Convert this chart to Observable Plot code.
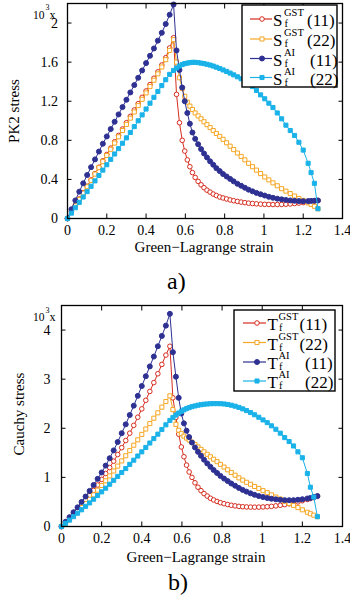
<!DOCTYPE html>
<html><head><meta charset="utf-8">
<script src="https://cdn.jsdelivr.net/npm/d3@7"></script>
<script src="https://cdn.jsdelivr.net/npm/@observablehq/plot@0.6"></script>
<style>
body{margin:0;background:#fff;}
#wrap{position:relative;width:350px;height:610px;overflow:hidden;font-family:"Liberation Serif","Times New Roman",serif;}
#wrap svg{position:absolute;left:0;}
</style></head><body><div id="wrap"></div>
<script>
// ---------- data ----------
const strain = [0,0.02,0.04,0.06,0.08,0.1,0.12,0.14,0.16,0.18,0.2,0.22,0.24,0.26,0.28,0.3,0.32,0.34,0.36,0.38,0.4,0.42,0.44,0.46,0.48,0.5,0.52,0.54,
  0.555,0.57,0.584,0.597,0.61,0.623,0.636,0.65,0.665,0.68,0.695,0.71,0.726,0.742,0.758,0.775,0.792,0.81,0.828,0.846,0.865,0.884,0.903,0.922,0.942,0.962,0.983,1.004,1.025,1.046,1.068,1.09,1.112,1.134,1.156,1.178,1.2,1.225,1.24,1.257,1.275];

// PK2 stress (x10^3)
const pk2_gst11 = [0,0.07,0.135,0.2,0.265,0.33,0.395,0.46,0.525,0.59,0.655,0.72,0.785,0.85,0.915,0.98,1.045,1.11,1.175,1.24,1.305,1.37,1.435,1.5,1.57,1.645,1.745,1.85,
  1.27,0.98,0.8,0.69,0.6,0.53,0.47,0.42,0.38,0.345,0.315,0.29,0.27,0.25,0.235,0.22,0.21,0.2,0.19,0.182,0.175,0.168,0.162,0.157,0.153,0.15,0.147,0.145,0.144,0.143,0.143,0.144,0.146,0.149,0.153,0.158,0.163,0.169,0.173,0.178,0.183];
const pk2_gst22 = [0,0.065,0.13,0.195,0.26,0.325,0.39,0.455,0.52,0.582,0.645,0.708,0.772,0.836,0.9,0.963,1.027,1.09,1.155,1.22,1.285,1.35,1.415,1.48,1.55,1.625,1.72,1.83,
  1.6,1.44,1.33,1.25,1.19,1.15,1.115,1.08,1.05,1.02,0.99,0.96,0.93,0.9,0.87,0.84,0.81,0.775,0.74,0.705,0.67,0.635,0.6,0.565,0.53,0.495,0.46,0.425,0.395,0.365,0.335,0.305,0.28,0.255,0.23,0.205,0.185,0.16,0.145,0.125,0.1];
const pk2_ai11 = [0,0.095,0.185,0.275,0.36,0.445,0.525,0.605,0.685,0.765,0.84,0.915,0.99,1.065,1.14,1.215,1.29,1.365,1.44,1.515,1.59,1.665,1.74,1.82,1.9,1.99,2.085,2.19,
  1.72,1.52,1.34,1.2,1.08,0.97,0.88,0.815,0.76,0.71,0.665,0.625,0.585,0.55,0.515,0.485,0.455,0.43,0.405,0.38,0.355,0.335,0.315,0.295,0.278,0.262,0.248,0.235,0.222,0.212,0.203,0.196,0.19,0.185,0.181,0.178,0.177,0.178,0.18,0.182,0.185];
const pk2_ai22 = [0,0.055,0.11,0.165,0.22,0.275,0.33,0.385,0.44,0.495,0.55,0.605,0.66,0.715,0.77,0.825,0.88,0.94,1.0,1.06,1.12,1.18,1.24,1.3,1.36,1.42,1.475,1.515,
  1.54,1.56,1.575,1.585,1.59,1.595,1.598,1.598,1.595,1.59,1.585,1.578,1.57,1.56,1.548,1.535,1.52,1.505,1.488,1.47,1.45,1.43,1.405,1.38,1.35,1.31,1.265,1.225,1.18,1.135,1.08,1.02,0.955,0.9,0.85,0.78,0.7,0.565,0.47,0.36,0.1];

// Cauchy stress (x10^3)
const cauchy_gst11 = [0,0.085,0.17,0.255,0.345,0.435,0.53,0.63,0.735,0.845,0.96,1.08,1.2,1.33,1.465,1.605,1.75,1.9,2.06,2.225,2.395,2.57,2.75,2.93,3.11,3.3,3.49,3.67,
  2.62,2.22,1.88,1.62,1.42,1.25,1.11,1.0,0.89,0.8,0.73,0.67,0.62,0.575,0.54,0.51,0.485,0.465,0.447,0.432,0.42,0.41,0.403,0.398,0.395,0.394,0.395,0.398,0.403,0.41,0.42,0.432,0.446,0.462,0.48,0.5,0.525,0.55,0.568,0.59,0.615];
const cauchy_gst22 = [0,0.075,0.15,0.225,0.305,0.385,0.47,0.555,0.645,0.74,0.835,0.93,1.03,1.13,1.23,1.335,1.44,1.545,1.655,1.765,1.875,1.985,2.095,2.205,2.315,2.43,2.545,2.66,
  2.38,2.08,1.96,1.89,1.84,1.8,1.76,1.715,1.67,1.62,1.57,1.52,1.47,1.42,1.37,1.32,1.265,1.21,1.155,1.1,1.045,0.99,0.945,0.9,0.86,0.815,0.775,0.73,0.69,0.645,0.6,0.56,0.515,0.47,0.43,0.385,0.34,0.29,0.26,0.23,0.2];
const cauchy_ai11 = [0,0.095,0.19,0.29,0.39,0.5,0.61,0.725,0.845,0.97,1.1,1.24,1.39,1.55,1.72,1.9,2.08,2.27,2.46,2.66,2.86,3.06,3.26,3.46,3.67,3.88,4.09,4.33,
  3.55,3.05,2.62,2.3,2.1,1.95,1.82,1.71,1.61,1.52,1.44,1.36,1.285,1.215,1.15,1.09,1.03,0.975,0.925,0.875,0.83,0.785,0.745,0.71,0.675,0.645,0.62,0.6,0.58,0.565,0.553,0.543,0.537,0.535,0.537,0.545,0.555,0.57,0.582,0.6,0.62];
const cauchy_ai22 = [0,0.065,0.13,0.2,0.27,0.34,0.41,0.48,0.555,0.63,0.705,0.78,0.86,0.94,1.02,1.1,1.18,1.265,1.35,1.435,1.52,1.61,1.7,1.79,1.88,1.975,2.07,2.16,
  2.22,2.27,2.31,2.345,2.375,2.4,2.42,2.44,2.455,2.47,2.48,2.49,2.495,2.5,2.502,2.502,2.5,2.495,2.485,2.47,2.45,2.425,2.395,2.36,2.32,2.275,2.225,2.17,2.115,2.05,1.98,1.9,1.81,1.73,1.64,1.52,1.4,1.08,0.8,0.6,0.2];

const xTicks = [0,0.2,0.4,0.6,0.8,1,1.2,1.4];
const pk2Ticks = [0,0.4,0.8,1.2,1.6,2];
const cauchyTicks = [0,1,2,3,4];
const seriesSup = ["GST","GST","AI","AI"];
const seriesComp = ["(11)","(22)","(11)","(22)"];

// ---------- styles ----------
const styles = [
  {color:"#d62d20", symbol:"circle", filled:false, r:2.3},
  {color:"#f5a623", symbol:"square", filled:false, r:2.3},
  {color:"#2e3192", symbol:"circle", filled:true,  r:2.5},
  {color:"#1ab2e8", symbol:"square", filled:true,  r:2.3}
];
const wrap = document.getElementById("wrap");
const FONT = "Liberation Serif, Times New Roman, serif";

function chart(values, o) {
  const marks = [];
  values.forEach((vals, i) => {
    const st = styles[i];
    const data = strain.map((x, j) => ({x, y: vals[j]})).filter(d => d.y != null);
    marks.push(Plot.line(data, {x:"x", y:"y", stroke:st.color, strokeWidth:1}));
    marks.push(Plot.dot(data, {x:"x", y:"y", r:st.r, symbol:st.symbol, stroke:st.color,
      fill: st.filled ? st.color : "white", strokeWidth:1}));
  });
  const svg = Plot.plot({
    width:350, height:o.height, marginTop:o.mTop, marginBottom:o.mBottom, marginLeft:o.mLeft, marginRight:8,
    style:{fontFamily:FONT, fontSize:"14px", color:"black", background:"white"},
    x:{domain:[0,1.4]}, y:{domain:o.yDomain},
    marks:[
      Plot.axisX(xTicks, {anchor:"bottom", tickSize:-4.5, tickPadding:o.xPad, label:null, tickFormat:d=>String(d), fontSize:14}),
      Plot.axisX(xTicks, {anchor:"top", tickSize:-4.5, label:null, fill:"none"}),
      Plot.axisY(o.yTicks, {anchor:"left", tickSize:-4.5, tickPadding:o.yPad, label:null, tickFormat:d=>String(d), fontSize:14}),
      Plot.axisY(o.yTicks, {anchor:"right", tickSize:-4.5, label:null, fill:"none"}),
      ...marks,
      Plot.frame({stroke:"black", strokeWidth:1.3})
    ]
  });
  svg.style.top = o.top + "px";
  wrap.appendChild(svg);
}

chart([pk2_gst11, pk2_gst22, pk2_ai11, pk2_ai22],
  {top:0, height:258, mTop:3, mBottom:40, mLeft:67, yDomain:[0,2.2], yTicks:pk2Ticks, xPad:11, yPad:14});
chart([cauchy_gst11, cauchy_gst22, cauchy_ai11, cauchy_ai22],
  {top:300, height:268, mTop:5, mBottom:42, mLeft:61, yDomain:[0,4.5], yTicks:cauchyTicks, xPad:11, yPad:15.5});

// ---------- overlay text & legends ----------
const ov = d3.select(wrap).append("svg").attr("width",350).attr("height",610)
  .style("top","0px").style("font-family",FONT).style("pointer-events","none");

function txt(x, y, s, size, anchor="start", rot=0) {
  const t = ov.append("text").attr("x",x).attr("y",y).attr("font-size",size).attr("fill","black")
    .attr("text-anchor",anchor).text(s);
  if (rot) t.attr("transform",`rotate(${rot},${x},${y})`);
  return t;
}

// axis titles
txt(204, 252, "Green\u2212Lagrange strain", 15, "middle");
txt(19, 111, "PK2 stress", 15, "middle", -90);
txt(196, 561.5, "Green\u2212Lagrange strain", 15, "middle");
txt(24, 414, "Cauchy stress", 15, "middle", -90);
// 10^3 x
txt(33, 18.5, "10", 11.5); txt(45.5, 10, "3", 8); txt(49.5, 18.5, "x", 12);
txt(33, 321, "10", 11.5); txt(45.5, 312.5, "3", 8); txt(49.5, 321, "x", 12);
// panel labels
txt(167, 289, "a)", 24);
txt(168, 590, "b)", 24);

function legend(o) {
  ov.append("rect").attr("x",o.x).attr("y",o.y).attr("width",o.w).attr("height",o.h)
    .attr("fill","white").attr("stroke","black").attr("stroke-width",1.4);
  o.rows.forEach((ry, i) => {
    const st = styles[i];
    ov.append("line").attr("x1",o.s1).attr("x2",o.s2).attr("y1",ry).attr("y2",ry)
      .attr("stroke",st.color).attr("stroke-width",1.2);
    const sym = d3.symbol(st.symbol === "circle" ? d3.symbolCircle : d3.symbolSquare, Math.PI*st.r*st.r);
    ov.append("path").attr("d",sym()).attr("transform",`translate(${o.m},${ry})`)
      .attr("fill", st.filled ? st.color : "white").attr("stroke",st.color).attr("stroke-width",1);
    txt(o.lx, ry+7, o.letter, 17);
    txt(o.supx, ry-3, seriesSup[i], 10.5);
    txt(o.supx+0.5, ry+8, "f", 10.5);
    txt(seriesSup[i] === "GST" ? o.p1 : o.p2, ry+7, seriesComp[i], 17);
  });
}
legend({x:242, y:5, w:95, h:82, rows:[19,39,58.5,77.5], s1:250, s2:272, m:262, letter:"S", lx:273, supx:284, p1:307, p2:310});
legend({x:234, y:310, w:101, h:81, rows:[323,342.5,362,381], s1:243, s2:266, m:257, letter:"T", lx:267.5, supx:278.5, p1:299.5, p2:305});
</script></body></html>
